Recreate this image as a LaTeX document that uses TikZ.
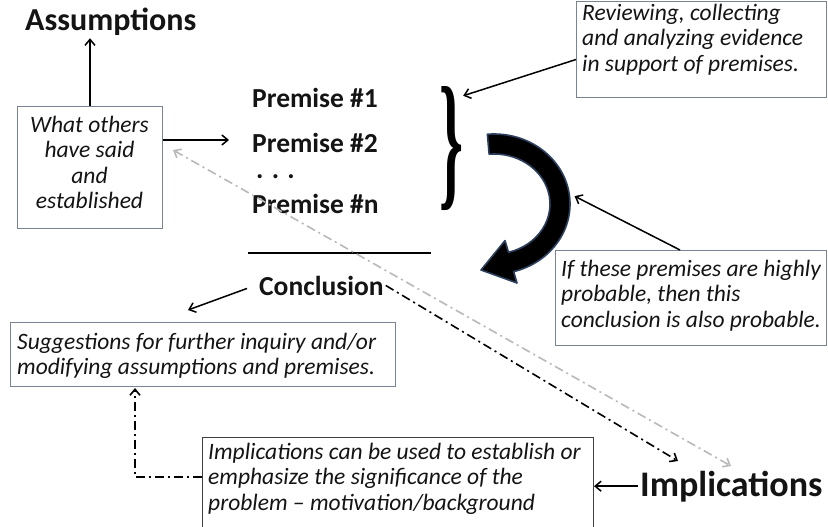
\documentclass[tikz,border=0pt]{standalone}
\usepackage{fontspec}
\setmainfont{Carlito}
\newfontfamily\bracefont{Liberation Serif}
\usetikzlibrary{arrows.meta,calc}
\definecolor{boxline}{RGB}{120,132,146}
\definecolor{txt}{RGB}{20,20,20}
\definecolor{arcline}{RGB}{44,64,94}
\definecolor{lightgray}{RGB}{185,185,185}
\tikzset{
  >={Straight Barb[length=6pt,width=10pt]},
  conn/.style={draw=black,line width=1.5pt,->},
  dashdot/.style={line width=1.6pt,dash pattern=on 9pt off 4pt on 2pt off 4pt},
  boxshape/.style={draw=boxline,line width=1pt,inner sep=0pt,anchor=north west},
  itxt/.style={inner sep=0pt,anchor=north west,align=left,text=txt,
    font=\fontsize{23.5}{25.5}\selectfont\itshape},
  ctxt/.style={inner sep=0pt,anchor=north,align=center,text=txt,
    font=\fontsize{23.5}{25.5}\selectfont\itshape},
  blabel/.style={inner sep=2pt,anchor=base west,text=txt,
    font=\fontsize{27.5}{30}\selectfont\bfseries},
}
\begin{document}
\begin{tikzpicture}[x=1pt,y=-1pt]
\useasboundingbox (0,0) rectangle (828,527);
\clip (0,0) rectangle (828,527);
\fill[white] (0,0) rectangle (828,527);

% ---- Assumptions and left box
\node[blabel,font=\fontsize{32}{36}\selectfont\bfseries] (assump) at (23,31) {Assumptions};
\node[boxshape,minimum width=145pt,minimum height=122pt] (A) at (17,106) {};
\node[ctxt] (Atxt) at (89.5,114.2) {\strut What others\\have said\\and\\established};
\draw[conn] (A.north) -- (A.north |- assump.south);

% ---- Premises
\node[blabel] (p1) at (250,107) {Premise \#1};
\node[blabel] (p2) at (250,152) {Premise \#2};
\node[blabel] (pd) at (254,178) {. . .};
\node[blabel] (pn) at (250,213) {Premise \#n};
\coordinate (ruleL) at (248,253);
\coordinate (ruleR) at (431,253);
\draw[line width=2pt] (ruleL) -- (ruleR);
\draw[conn] (A.east |- 0,140) -- ([xshift=-21pt]p2.west |- 0,140);

% ---- Brace
\node[inner sep=0pt] (brace) at (451,149) {\resizebox{24pt}{104pt}{\bracefont\bfseries\}}};

% ---- Reviewing box
\node[boxshape,minimum width=250pt,minimum height=96pt] (R) at (576,1) {};
\node[itxt] (Rtxt) at (582,2.2) {\strut Reviewing, collecting\\and analyzing evidence\\in support of premises.};
\draw[conn] ([yshift=-10pt]R.west) -- ($(brace.north east)+(0,9)$);

% ---- Curved thick arrow
\coordinate (c) at (494,204);
\filldraw[fill=black,draw=arcline,line width=1.6pt,line join=round]
  ($(c)+(-95:76 and 70)$) arc[start angle=-95,end angle=75,x radius=76,y radius=70]
  -- (517,283) -- (481,270) -- (505,240.6)
  -- ($(c)+(75:56 and 50)$) arc[start angle=75,end angle=-95,x radius=56,y radius=50]
  -- cycle;
\coordinate (arcR) at ($(c)+(-6:81 and 75)$);

% ---- If box
\node[boxshape,minimum width=271pt,minimum height=95pt] (I) at (555,250) {};
\node[itxt] (Itxt) at (561,258.2) {\strut If these premises are highly\\probable, then this\\conclusion is also probable.};
\draw[conn] ($(I.north west)+(125,0)$) -- (arcR);

% ---- Conclusion
\node[blabel] (conc) at (257,295) {Conclusion};
\node[boxshape,minimum width=385pt,minimum height=64pt] (S) at (10,322) {};
\node[itxt] (Stxt) at (17,331.2) {\strut Suggestions for further inquiry and/or\\modifying assumptions and premises.};
\draw[conn] ([xshift=-10pt,yshift=-3pt]conc.west) -- ($(S.north)+(-15,-12)$);

% ---- Implications
\node[blabel,font=\fontsize{36}{40}\selectfont\bfseries] (impl) at (638,496) {Implications};
\node[draw=black!75,line width=1pt,inner sep=0pt,anchor=north west,
      minimum width=391pt,minimum height=100pt] (I2) at (202,437) {};
\node[itxt] (I2txt) at (208,441.2) {\strut Implications can be used to establish or\\emphasize the significance of the\\problem -- motivation/background};
\draw[conn] (impl.west) -- (impl.west -| I2.east);

% ---- dash-dot connectors
\coordinate (g1) at (173,150);
\coordinate (g2) at (731,466);
\draw[dashdot,draw=lightgray,<->] (g1) -- (g2);
\coordinate (bTip) at (678,461);
\draw[dashdot,draw=black,->] (conc.east) -- (bTip);
\draw[dashdot,draw=black,->] ($(I2.north west)+(0,40)$) -| ($(S.south west)+(125,1)$);
\end{tikzpicture}
\end{document}
